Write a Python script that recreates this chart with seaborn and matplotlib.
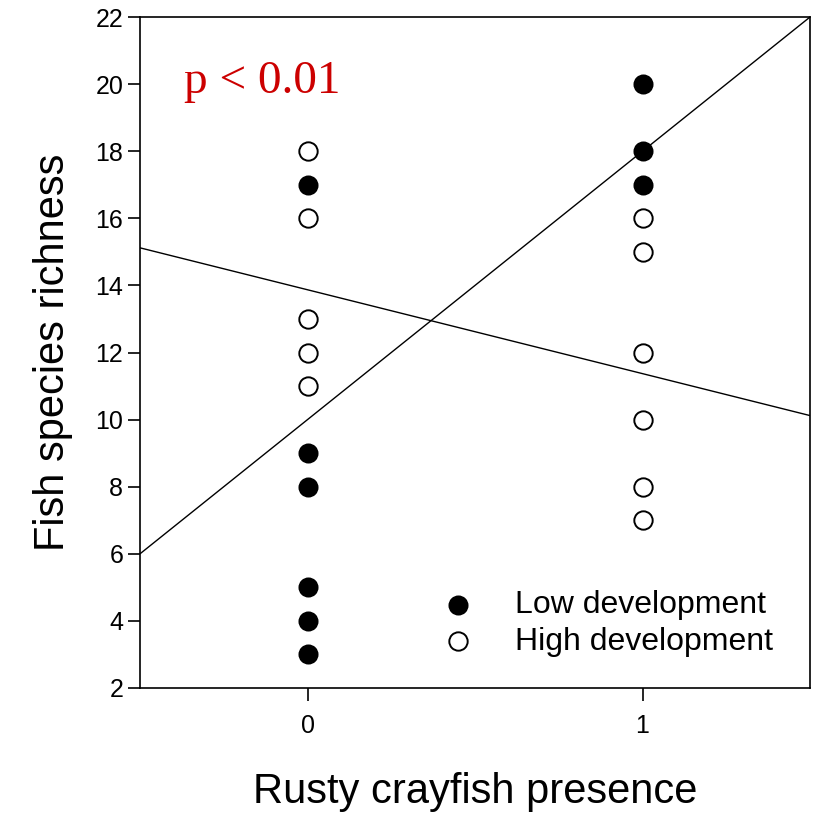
import matplotlib
matplotlib.use("Agg")
import matplotlib.pyplot as plt
import seaborn as sns
import pandas as pd
import numpy as np

# Data
low_x = [0, 0, 0, 0, 0, 0, 1, 1, 1]
low_y = [17, 9, 8, 5, 4, 3, 20, 18, 17]
high_x = [0, 0, 0, 0, 0, 1, 1, 1, 1, 1, 1]
high_y = [18, 16, 13, 12, 11, 16, 15, 12, 10, 8, 7]
# fitted lines (intercept, slope)
low_fit = [10.0, 8.0]
high_fit = [13.87, -2.5]
x_ticks = [0, 1]
y_ticks = [2, 4, 6, 8, 10, 12, 14, 16, 18, 20, 22]
series_names = ["Low development", "High development"]

df = pd.DataFrame({
    "x": low_x + high_x,
    "y": low_y + high_y,
    "group": [series_names[0]] * len(low_x) + [series_names[1]] * len(high_x),
})

sns.set_style("ticks")
plt.rcParams["font.family"] = ["Liberation Sans", "DejaVu Sans"]
plt.rcParams["text.color"] = "black"
plt.rcParams["axes.labelcolor"] = "black"
plt.rcParams["xtick.color"] = "black"
plt.rcParams["ytick.color"] = "black"

fig = plt.figure(figsize=(8.15, 8.14), dpi=100)
ax = fig.add_axes([0.1718, 0.1548, 0.8221, 0.8243])

sns.scatterplot(data=df[df.group == series_names[0]], x="x", y="y", ax=ax,
                color="black", edgecolor="black", s=175, linewidth=1.2,
                label=series_names[0], zorder=3)
sns.scatterplot(data=df[df.group == series_names[1]], x="x", y="y", ax=ax,
                facecolor="white", edgecolor="black", s=175, linewidth=1.4,
                label=series_names[1], zorder=3)

xs = np.array([-0.5, 1.5])
ax.plot(xs, low_fit[0] + low_fit[1] * xs, color="black", lw=1.0, zorder=2)
ax.plot(xs, high_fit[0] + high_fit[1] * xs, color="black", lw=1.0, zorder=2)

ax.set_xlim(-0.5, 1.5)
ax.set_ylim(2, 22)
ax.set_xticks(x_ticks)
ax.set_yticks(y_ticks)
ax.tick_params(direction="out", length=9, width=1.2, labelsize=18)
ax.tick_params(axis="x", pad=10)
ax.tick_params(axis="y", pad=3)
for sp in ax.spines.values():
    sp.set_linewidth(1.2)
    sp.set_color("black")

ax.set_xlabel("Rusty crayfish presence", fontsize=30, labelpad=24)
ax.set_ylabel("Fish species richness", fontsize=30, labelpad=16)

ax.text(0.065, 0.935, "p < 0.01", transform=ax.transAxes, color="#CC0000",
        fontsize=34, family=["Liberation Serif", "DejaVu Serif"], va="top", ha="left")

ax.legend(loc="lower right", bbox_to_anchor=(0.988, 0.004), frameon=False,
          fontsize=23, handletextpad=0.78, markerscale=1.0, labelspacing=0.2)

fig.savefig("out.png", dpi=100)
